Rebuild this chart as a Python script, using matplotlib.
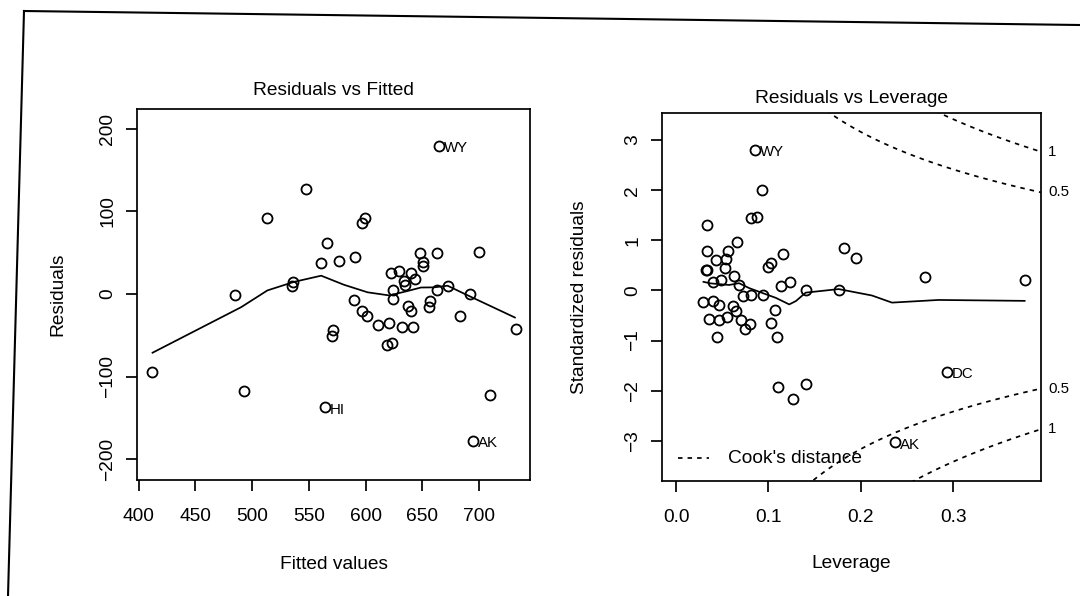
import numpy as np
import matplotlib
matplotlib.use("Agg")
import matplotlib.pyplot as plt
import matplotlib.transforms as mtransforms
from matplotlib.lines import Line2D

plt.rcParams['font.family'] = ['Liberation Sans', 'DejaVu Sans']

# ---------------- data: Residuals vs Fitted ----------------
fitted = [412.0, 484.8, 492.6, 512.8, 536.3, 535.6, 547.9, 561.0, 565.9, 570.2,
          571.6, 576.6, 564.2, 589.6, 590.6, 597.1, 601.6, 596.7, 599.3, 611.3,
          618.9, 623.4, 620.6, 622.7, 629.7, 624.4, 624.5, 632.5, 634.0, 634.7,
          637.4, 639.8, 640.3, 641.8, 643.4, 648.2, 650.7, 650.4, 656.0, 656.4,
          663.0, 662.9, 664.6, 672.3, 683.1, 691.9, 700.3, 709.6, 694.5, 732.5]
residuals = [-94.0, -1.1, -117.5, 91.5, 14.7, 9.4, 127.3, 37.8, 62.0, -51.2,
             -44.0, 39.7, -137.2, -6.9, 45.4, -20.9, -26.0, 85.7, 91.8, -37.9,
             -61.5, -59.5, -35.4, 25.7, 27.8, 4.8, -6.4, -40.1, 15.7, 11.4,
             -15.0, -20.4, 25.9, -40.0, 17.8, 50.1, 38.8, 33.9, -16.1, -8.2,
             4.4, 50.2, 178.8, 10.1, -27.1, -0.5, 50.7, -122.0, -178.3, -42.3]
fit_id_index = [42, 12, 48]
fit_id_names = ['WY', 'HI', 'AK']

smooth_fit_x = [412.2, 490.3, 513.5, 536.9, 560.9, 581.0, 601.8, 621.0, 637.4,
                648.8, 660.6, 672.3, 687.2, 731.7]
smooth_fit_y = [-71.0, -15.9, 4.4, 14.7, 22.2, 11.2, 2.1, -1.7, 3.8,
                7.9, 8.1, 10.1, 0.3, -28.4]

fit_xticks = [400, 450, 500, 550, 600, 650, 700]
fit_yticks = [-200, -100, 0, 100, 200]

# ---------------- data: Residuals vs Leverage ----------------
leverage = [0.0337, 0.0337, 0.0432, 0.0540, 0.0566, 0.0665, 0.0320, 0.0338, 0.0527, 0.0402,
            0.0484, 0.0623, 0.0682, 0.0296, 0.0395, 0.0464, 0.0615, 0.0653, 0.0721, 0.0810,
            0.0943, 0.0353, 0.0465, 0.0553, 0.0698, 0.0747, 0.0800, 0.0440, 0.0810, 0.0874,
            0.0932, 0.0855, 0.0990, 0.1025, 0.1163, 0.1138, 0.1238, 0.1069, 0.1025, 0.1090,
            0.1408, 0.1760, 0.1818, 0.1950, 0.2697, 0.3782, 0.1100, 0.1266, 0.1406, 0.2931,
            0.2367]
std_resid = [1.316, 0.778, 0.606, 0.622, 0.788, 0.968, 0.406, 0.406, 0.455, 0.162,
             0.203, 0.290, 0.106, -0.226, -0.217, -0.284, -0.301, -0.408, -0.120, -0.085,
             -0.083, -0.570, -0.594, -0.534, -0.591, -0.770, -0.669, -0.928, 1.443, 1.456,
             2.003, 2.804, 0.469, 0.550, 0.730, 0.099, 0.166, -0.394, -0.654, -0.918,
             0.003, 0.008, 0.852, 0.649, 0.275, 0.212, -1.934, -2.157, -1.856, -1.628,
             -3.031]
lev_id_index = [31, 49, 50]
lev_id_names = ['WY', 'DC', 'AK']

smooth_lev_x = [0.0297, 0.0377, 0.0575, 0.0682, 0.0791, 0.0935, 0.108, 0.1225,
                0.1297, 0.1403, 0.176, 0.212, 0.2337, 0.284, 0.3773]
smooth_lev_y = [0.172, 0.141, 0.110, 0.146, 0.048, -0.05, -0.147, -0.278,
                -0.211, -0.043, 0.028, -0.1, -0.242, -0.189, -0.207]

lev_xticks = [0.0, 0.1, 0.2, 0.3]
lev_xticklabels = ['0.0', '0.1', '0.2', '0.3']
lev_yticks = [-3, -2, -1, 0, 1, 2, 3]

cook_levels = [0.5, 1.0]
n_coef = 5

# ---------------- figure ----------------
W, H = 1080, 596
fig = plt.figure(figsize=(W / 100, H / 100), dpi=100)
fig.patch.set_facecolor('white')


def ax_rect(l, t, r, b):
    return [l / W, 1 - b / H, (r - l) / W, (b - t) / H]


def minus(v):
    return str(v).replace('-', '\u2212')


ax1 = fig.add_axes(ax_rect(137, 108.5, 530, 480))
ax2 = fig.add_axes(ax_rect(662, 113, 1041, 481))

FS = 13.8
LW = 1.25
for ax in (ax1, ax2):
    for s in ax.spines.values():
        s.set_linewidth(LW)
    ax.tick_params(direction='out', length=8, width=LW, labelsize=FS)
    ax.tick_params(axis='x', pad=12)
    ax.tick_params(axis='y', pad=7)

mk = dict(marker='o', mfc='none', mec='black', mew=1.3, ms=7.2, ls='none')
dash = (0, (2.6, 2.9))

# ---- left panel ----
ax1.plot(fitted, residuals, **mk)
ax1.plot(smooth_fit_x, smooth_fit_y, color='black', lw=LW)
for i, name in zip(fit_id_index, fit_id_names):
    ax1.annotate(name, (fitted[i], residuals[i]), xytext=(3.5, -1.5),
                 textcoords='offset points', ha='left', va='center', fontsize=10.8)
ax1.set_xlim(398.5, 745)
ax1.set_ylim(-225, 224.5)
ax1.set_xticks(fit_xticks)
ax1.set_yticks(fit_yticks)
ax1.set_yticklabels([minus(v) for v in fit_yticks], rotation=90, va='center')
ax1.text(0.5, 1.0 + 18 / 371, 'Residuals vs Fitted', transform=ax1.transAxes,
         ha='center', va='center', fontsize=FS)
ax1.text(0.5, -(564 - 480) / 371, 'Fitted values', transform=ax1.transAxes,
         ha='center', va='center', fontsize=FS)
ax1.text(-(137 - 57.5) / 393, 0.5, 'Residuals', transform=ax1.transAxes,
         ha='center', va='center', rotation=90, fontsize=FS)

# ---- right panel ----
xlim2 = (-0.0152, 0.395)
ax2.set_xlim(*xlim2)
ax2.set_ylim(-3.80, 3.54)
ax2.plot(leverage, std_resid, **mk)
ax2.plot(smooth_lev_x, smooth_lev_y, color='black', lw=LW)
hh = np.linspace(0.004, xlim2[1], 101)
for lev in cook_levels:
    cl = np.sqrt(lev * n_coef * (1 - hh) / hh)
    ax2.plot(hh, cl, color='black', lw=LW, ls=dash)
    ax2.plot(hh, -cl, color='black', lw=LW, ls=dash)
xmax = xlim2[1]
trans_r = mtransforms.blended_transform_factory(ax2.transAxes, ax2.transData)
for lev in cook_levels:
    aty = np.sqrt(lev * n_coef * (1 - xmax) / xmax)
    lab = '1' if lev == 1.0 else str(lev)
    for sgn in (1, -1):
        ax2.text(1.0 + 7 / 379, sgn * aty, lab, transform=trans_r, ha='left',
                 va='center', fontsize=10.8)
for i, name in zip(lev_id_index, lev_id_names):
    ax2.annotate(name, (leverage[i], std_resid[i]), xytext=(3.5, -1.5),
                 textcoords='offset points', ha='left', va='center', fontsize=10.8)
ax2.set_xticks(lev_xticks)
ax2.set_xticklabels(lev_xticklabels)
ax2.set_yticks(lev_yticks)
ax2.set_yticklabels([minus(v) for v in lev_yticks], rotation=90, va='center')
# legend
ax2.plot([0.042, 0.125], [0.062, 0.062], transform=ax2.transAxes, color='black',
         lw=LW, ls=dash)
ax2.text(0.175, 0.062, "Cook's distance", transform=ax2.transAxes, ha='left',
         va='center', fontsize=FS)
ax2.text(0.5, 1.0 + 15 / 368, 'Residuals vs Leverage', transform=ax2.transAxes,
         ha='center', va='center', fontsize=FS)
ax2.text(0.5, -(564 - 481) / 368, 'Leverage', transform=ax2.transAxes,
         ha='center', va='center', fontsize=FS)
ax2.text(-(662 - 580) / 379, 0.5, 'Standardized residuals', transform=ax2.transAxes,
         ha='center', va='center', rotation=90, fontsize=FS)

# page frame of the scan
fig.add_artist(Line2D([24 / W, 1.0], [1 - 11 / H, 1 - 25 / H], color='black', lw=1.5))
fig.add_artist(Line2D([24 / W, 8 / W], [1 - 11 / H, 0.0], color='black', lw=1.5))

fig.savefig('out.png', dpi=100, facecolor='white')
